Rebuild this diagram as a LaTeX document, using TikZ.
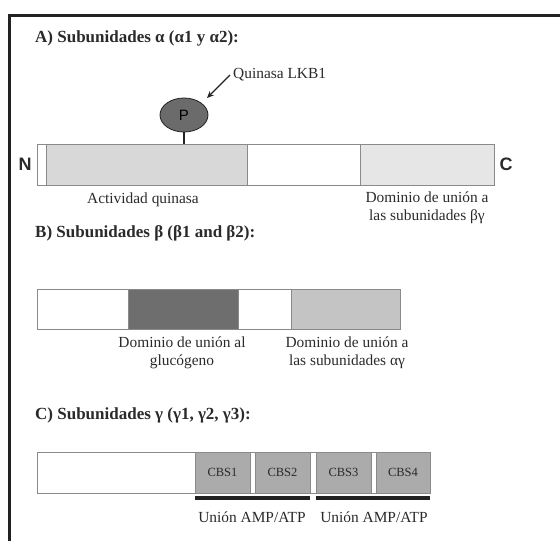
\documentclass[tikz,border=0pt]{standalone}
\usepackage{fontspec}
\setmainfont{Liberation Serif}
\newfontfamily\sansf{Liberation Sans}
\usetikzlibrary{arrows.meta,shapes.geometric}
\definecolor{frame}{HTML}{222222}
\definecolor{edge}{HTML}{8A8A8A}
\definecolor{kin}{HTML}{D8D8D8}
\definecolor{bgy}{HTML}{E6E6E6}
\definecolor{dark}{HTML}{6E6E6E}
\definecolor{midg}{HTML}{C4C4C4}
\definecolor{cbs}{HTML}{ABABAB}
\definecolor{pcol}{HTML}{6B6B6B}
\definecolor{txt}{HTML}{2A2A2A}
\tikzset{
  seg/.style={draw=edge, line width=0.9pt, inner sep=0pt, outer sep=0pt, anchor=north west},
  title/.style={font=\fontsize{17}{19}\selectfont\bfseries, text=txt, anchor=west, inner sep=0pt},
  lab/.style={font=\fontsize{15.4}{18}\selectfont, text=txt, align=center, inner sep=0pt},
  term/.style={font=\sansf\bfseries\fontsize{18}{20}\selectfont, text=txt, inner sep=0pt},
  cbslab/.style={font=\fontsize{12.5}{14}\selectfont, text=txt},
  bind/.style={line width=3.5pt, draw=frame}
}
\begin{document}
\begin{tikzpicture}[x=1pt,y=-1pt]
\useasboundingbox (0,0) rectangle (560,541);
% frame
\draw[frame, line width=3pt] (9,541) -- (9,15) -- (560,15);
% A
\node[title] (ta) at (35,38) {A) Subunidades α (α1 y α2):};
\node[seg, fill=white, minimum width=9pt, minimum height=41pt] (a0) at (37,144) {};
\node[seg, fill=kin, minimum width=201pt, minimum height=41pt] (a1) at (46,144) {};
\node[seg, fill=white, minimum width=113pt, minimum height=41pt] (a2) at (247,144) {};
\node[seg, fill=bgy, minimum width=134pt, minimum height=41pt] (a3) at (360,144) {};
\node[term] (N) at (25,164) {N};
\node[term] (C) at (506,164) {C};
\node[draw=frame, line width=0.8pt, fill=pcol, ellipse, minimum width=48pt, minimum height=34pt, inner sep=0pt, font=\sansf\fontsize{15}{17}\selectfont, text=black] (P) at (184,115) {P};
\draw[frame, line width=2pt] (P.south) -- (P.south |- a1.north);
\node[font=\fontsize{15.4}{18}\selectfont, text=txt, anchor=west, inner sep=0pt] (lkb) at (233,75) {Quinasa LKB1};
\coordinate (pend) at (207,98);
\draw[frame, line width=1.3pt, -{Stealth[length=7pt,width=6pt]}] ([xshift=-3pt]lkb.west) -- (pend);
\node[lab] (la1) at (143,200) {Actividad quinasa};
\node[lab, anchor=north] (la2) at (427,192) {Dominio de unión a\\las subunidades βγ};
% B
\node[title] (tb) at (35,233) {B) Subunidades β (β1 and β2):};
\node[seg, fill=white, minimum width=91pt, minimum height=40pt] (b0) at (37,289) {};
\node[seg, fill=dark, minimum width=110pt, minimum height=40pt] (b1) at (128,289) {};
\node[seg, fill=white, minimum width=53pt, minimum height=40pt] (b2) at (238,289) {};
\node[seg, fill=midg, minimum width=109pt, minimum height=40pt] (b3) at (291,289) {};
\node[lab, anchor=north] (lb1) at (182,337) {Dominio de unión al\\glucógeno};
\node[lab, anchor=north] (lb2) at (347,337) {Dominio de unión a\\las subunidades αγ};
% C
\node[title] (tc) at (35,415) {C) Subunidades γ (γ1, γ2, γ3):};
\node[seg, fill=white, minimum width=393pt, minimum height=41pt] (c0) at (37,452) {};
\node[seg, fill=cbs, minimum width=55pt, minimum height=41pt] (c1) at (195,452) {};
\node[seg, fill=cbs, minimum width=55pt, minimum height=41pt] (c2) at (255,452) {};
\node[seg, fill=cbs, minimum width=55pt, minimum height=41pt] (c3) at (316,452) {};
\node[seg, fill=cbs, minimum width=54pt, minimum height=41pt] (c4) at (376,452) {};
\node[cbslab] at (c1.center) {CBS1};
\node[cbslab] at (c2.center) {CBS2};
\node[cbslab] at (c3.center) {CBS3};
\node[cbslab] at (c4.center) {CBS4};
\coordinate (u1a) at (195,498);
\coordinate (u1b) at (310,498);
\coordinate (u2a) at (316,498);
\coordinate (u2b) at (430,498);
\draw[bind] (u1a) -- (u1b);
\draw[bind] (u2a) -- (u2b);
\node[lab] (lu1) at (252,517) {Unión AMP/ATP};
\node[lab] (lu2) at (374,517) {Unión AMP/ATP};
\end{tikzpicture}
\end{document}
